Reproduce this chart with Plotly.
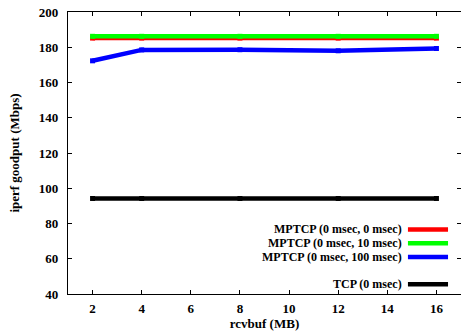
import plotly.graph_objects as go

rcvbuf = [2, 4, 8, 12, 16]
mptcp_0_0 = [185.2, 185.2, 185.2, 185.2, 185.2]
mptcp_0_10 = [186.2, 186.2, 186.2, 186.2, 186.2]
mptcp_0_100 = [172.3, 178.5, 178.6, 178.0, 179.3]
tcp_0 = [94.2, 94.2, 94.2, 94.2, 94.2]

series = [
    ("MPTCP (0 msec, 0 msec)", mptcp_0_0, "#ff0000"),
    ("MPTCP (0 msec, 10 msec)", mptcp_0_10, "#00ff00"),
    ("MPTCP (0 msec, 100 msec)", mptcp_0_100, "#0000ff"),
    ("TCP (0 msec)", tcp_0, "#000000"),
]
legend_rows = [0, 1, 2, 4]

FONT = "'Liberation Serif', 'Times New Roman', 'DejaVu Serif', serif"

fig = go.Figure()
for name, ys, col in series:
    fig.add_trace(go.Scatter(
        x=rcvbuf, y=ys, name=name, mode="lines+markers",
        line=dict(color=col, width=4.5),
        marker=dict(color=col, size=5, symbol="square"),
        showlegend=False,
    ))

# custom gnuplot-style legend (text right, sample to the right)
row_y0 = 0.229  # paper y of first row
row_h = 0.0487
for (name, ys, col), r in zip(series, legend_rows):
    yy = row_y0 - r * row_h
    fig.add_annotation(xref="paper", yref="paper", x=0.856, y=yy, text="<b>" + name + "</b>",
                       showarrow=False, xanchor="right", yanchor="middle",
                       font=dict(family=FONT, size=12, color="black"))
    fig.add_shape(type="line", xref="paper", yref="paper", x0=0.865, x1=0.967,
                  y0=yy, y1=yy, line=dict(color=col, width=4.5))

axis_font = dict(family=FONT, size=13, color="black")
tick_font = dict(family=FONT, size=13, color="black", weight="bold")
fig.update_layout(
    width=461, height=335,
    margin=dict(l=68, r=0, t=12, b=41),
    plot_bgcolor="white", paper_bgcolor="white",
    font=dict(family=FONT, size=13, color="black"),
    xaxis=dict(range=[1, 17], tickvals=[2, 4, 6, 8, 10, 12, 14, 16],
               ticks="inside", ticklen=4, tickcolor="black", showline=True,
               linecolor="black", linewidth=1.2, mirror="ticks", showgrid=False,
               zeroline=False, tickfont=tick_font, ticklabelstandoff=2,
               title=dict(text="<b>rcvbuf (MB)</b>", font=axis_font, standoff=2)),
    yaxis=dict(range=[40, 200], tickvals=list(range(40, 201, 20)),
               ticks="inside", ticklen=4, tickcolor="black", showline=True,
               linecolor="black", linewidth=1.2, mirror="ticks", showgrid=False,
               zeroline=False, tickfont=tick_font,
               ticklabelstandoff=6,
               title=dict(text="<b>iperf goodput (Mbps)</b>", font=axis_font, standoff=16)),
)

fig.write_html("out.html")
